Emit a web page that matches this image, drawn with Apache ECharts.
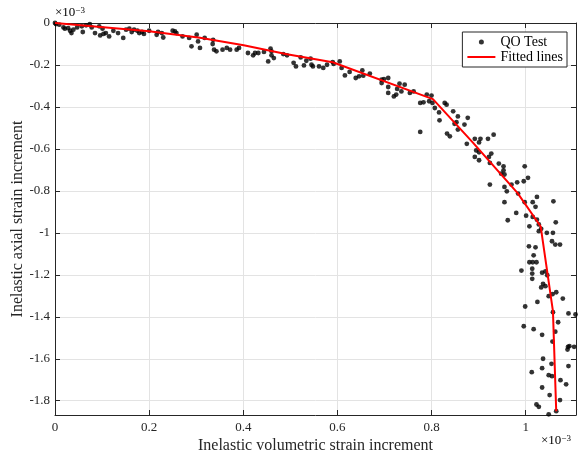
<!DOCTYPE html>
<html><head><meta charset="utf-8">
<script src="https://cdn.jsdelivr.net/npm/echarts@6/dist/echarts.min.js"></script>
<style>html,body{margin:0;padding:0;background:#fff}#c{width:579px;height:461px}</style>
</head><body><div id="c"></div>
<script>
// values in units of 1e-3
const qoX = [0,0.002,0.009,0.018,0.021,0.028,0.032,0.035,0.039,0.047,0.057,0.059,0.066,0.074,0.078,0.085,0.094,0.096,0.101,0.103,0.108,0.115,0.124,0.134,0.145,0.151,0.158,0.163,0.168,0.175,0.179,0.185,0.189,0.200,0.216,0.219,0.227,0.230,0.250,0.255,0.258,0.271,0.285,0.290,0.301,0.304,0.308,0.318,
0.336,0.335,0.338,0.343,0.356,0.365,0.372,0.386,0.391,0.410,0.421,0.425,0.432,0.444,0.453,0.458,0.460,0.460,0.465,0.485,0.493,0.507,0.512,0.522,0.529,0.534,0.543,0.545,0.548,0.561,0.570,0.578,0.590,0.592,0.605,0.609,0.616,0.626,0.639,0.646,
0.653,0.655,0.669,0.694,0.699,0.694,0.708,0.708,0.708,0.720,0.725,0.727,0.732,0.736,0.743,0.754,0.762,0.776,0.783,0.790,0.795,0.800,0.802,0.807,0.816,0.817,0.828,0.832,0.846,0.849,0.853,0.870,0.877,0.776,
0.856,0.856,0.833,0.839,0.875,0.892,0.901,0.904,0.920,0.932,0.895,0.901,0.892,0.901,0.922,0.927,0.924,0.943,0.953,0.953,0.948,0.955,0.924,0.955,0.960,0.970,0.982,0.998,0.996,1.005,0.984,0.955,0.998,1.015,1.024,1.021,1.059,0.962,0.980,1.001,1.015,1.024,1.008,1.028,1.033,1.028,1.064,1.045,1.058,
1.056,1.063,1.073,1.007,1.021,1.017,1.008,1.015,1.023,1.014,0.991,1.014,1.035,1.042,1.014,1.046,1.037,1.042,1.033,1.065,1.057,1.049,1.079,1.025,0.999,1.058,1.091,1.106,1.069,0.996,1.017,1.063,1.035,1.057,1.090,1.093,1.103,1.089,1.037,1.055,1.035,1.013,1.091,1.049,1.056,1.074,1.086,1.035,1.051,1.073,1.023,1.028,1.065,1.034,1.049];
const qoY = [0,-0.005,-0.008,-0.021,-0.027,-0.024,-0.037,-0.048,-0.032,-0.021,-0.016,-0.043,-0.011,-0.005,-0.021,-0.048,-0.016,-0.059,-0.027,-0.052,-0.048,-0.064,-0.037,-0.048,-0.071,-0.032,-0.027,-0.043,-0.032,-0.037,-0.048,-0.043,-0.052,-0.037,-0.056,-0.043,-0.048,-0.069,-0.037,-0.040,-0.048,-0.064,-0.071,-0.111,-0.056,-0.088,-0.119,-0.071,
-0.080,-0.100,-0.127,-0.135,-0.127,-0.119,-0.127,-0.127,-0.119,-0.143,-0.154,-0.143,-0.143,-0.138,-0.183,-0.122,-0.135,-0.154,-0.167,-0.148,-0.154,-0.190,-0.207,-0.164,-0.202,-0.180,-0.170,-0.199,-0.207,-0.207,-0.214,-0.199,-0.186,-0.195,-0.183,-0.214,-0.250,-0.233,-0.262,-0.254,
-0.226,-0.251,-0.241,-0.270,-0.267,-0.286,-0.262,-0.305,-0.333,-0.350,-0.341,-0.314,-0.289,-0.326,-0.294,-0.333,-0.326,-0.381,-0.378,-0.341,-0.373,-0.346,-0.381,-0.405,-0.426,-0.464,-0.381,-0.389,-0.421,-0.480,-0.473,-0.484,-0.452,-0.519,
-0.445,-0.508,-0.527,-0.540,-0.576,-0.552,-0.569,-0.552,-0.552,-0.532,-0.607,-0.616,-0.638,-0.654,-0.638,-0.622,-0.667,-0.670,-0.683,-0.702,-0.718,-0.722,-0.770,-0.781,-0.802,-0.770,-0.759,-0.683,-0.754,-0.738,-0.813,-0.854,-0.854,-0.854,-0.829,-0.876,-0.850,-0.940,-0.905,-0.918,-0.924,-0.937,-0.969,-0.960,-0.981,-0.992,-0.950,-1.000,-1.000,
-1.040,-1.056,-1.056,-1.064,-1.069,-1.107,-1.140,-1.140,-1.140,-1.171,-1.180,-1.194,-1.190,-1.184,-1.219,-1.202,-1.243,-1.254,-1.260,-1.283,-1.292,-1.302,-1.313,-1.329,-1.351,-1.378,-1.384,-1.389,-1.426,-1.445,-1.459,-1.471,-1.486,-1.518,-1.543,-1.540,-1.543,-1.556,-1.600,-1.624,-1.645,-1.664,-1.635,-1.678,-1.683,-1.702,-1.722,-1.737,-1.773,-1.797,-1.818,-1.829,-1.850,-1.869,-1.865];
const fitX = [0,0.200,0.308,0.401,0.493,0.590,0.803,0.888,0.983,1.032,1.058,1.065];
const fitY = [0,-0.039,-0.070,-0.106,-0.149,-0.187,-0.363,-0.570,-0.811,-0.970,-1.373,-1.850];
const xTicks = [0,0.2,0.4,0.6,0.8,1];
const yTicks = [0,-0.2,-0.4,-0.6,-0.8,-1,-1.2,-1.4,-1.6,-1.8];
const xRange = [0,1.107];
const yRange = [-1.868,0];
const xTitle = 'Inelastic volumetric strain increment';
const yTitle = 'Inelastic axial strain increment';
const seriesNames = ['QO Test','Fitted lines'];
const exponentText = '{m|×10}{s|−3}';

const FONT = '"Liberation Serif","Times New Roman",serif';
const AX = '#262626';
const fmt = v => String(+(+v).toFixed(1));

function axisBase(isX, primary){
  const ticks = isX ? xTicks : yTicks;
  const r = isX ? xRange : yRange;
  return {
    type:'value', min:r[0], max:r[1],
    position: isX ? (primary?'bottom':'top') : (primary?'left':'right'),
    axisLine:{show:true, onZero:false, lineStyle:{color:AX,width:1}},
    axisTick:{show:true, inside:true, length:5, customValues:ticks, lineStyle:{color:AX}},
    axisLabel:{show:primary, customValues:ticks, formatter:fmt, color:AX, fontFamily:FONT, fontSize:13, margin:isX?6:5},
    splitLine:{show:primary, lineStyle:{color:'#e3e3e3',width:1}},
    name: primary ? (isX?xTitle:yTitle) : '',
    nameLocation:'middle',
    nameMoveOverlap:false,
    nameGap: isX ? 23 : 29,
    nameTextStyle:{color:AX, fontFamily:FONT, fontSize:16}
  };
}
const expRich = {m:{fontFamily:FONT,fontSize:13,color:AX,verticalAlign:'bottom'},s:{fontFamily:FONT,fontSize:9,color:AX,verticalAlign:'top'}};

const chart = echarts.init(document.getElementById('c'), null, {renderer:'canvas'});
chart.setOption({
  animation:false,
  backgroundColor:'#fff',
  grid:{left:55,right:3,top:23,bottom:46,containLabel:false,outerBoundsMode:'none'},
  xAxis:[axisBase(true,true), axisBase(true,false)],
  yAxis:[axisBase(false,true), axisBase(false,false)],
  legend:{
    orient:'vertical', right:12, top:32,
    backgroundColor:'#fff', borderColor:'#262626', borderWidth:1,
    padding:[3,4,3,4], itemGap:1, itemWidth:28, itemHeight:5,
    textStyle:{fontFamily:FONT, fontSize:14, color:'#000'},
    data:[{name:seriesNames[0], icon:'circle'},{name:seriesNames[1], itemStyle:{opacity:0}}]
  },
  graphic:[
    {type:'text', left:55, top:6, style:{rich:expRich, text:exponentText}},
    {type:'text', left:541, top:434, style:{rich:expRich, text:exponentText}}
  ],
  series:[
    {name:seriesNames[0], type:'scatter', symbol:'circle', symbolSize:4.8,
     itemStyle:{color:'#000'}, data:qoX.map((x,i)=>[x,qoY[i]]), z:3},
    {name:seriesNames[1], type:'line', symbol:'none', showSymbol:false,
     lineStyle:{color:'#ff0000',width:2}, itemStyle:{color:'#ff0000'},
     data:fitX.map((x,i)=>[x,fitY[i]]), z:4}
  ]
});
</script></body></html>
